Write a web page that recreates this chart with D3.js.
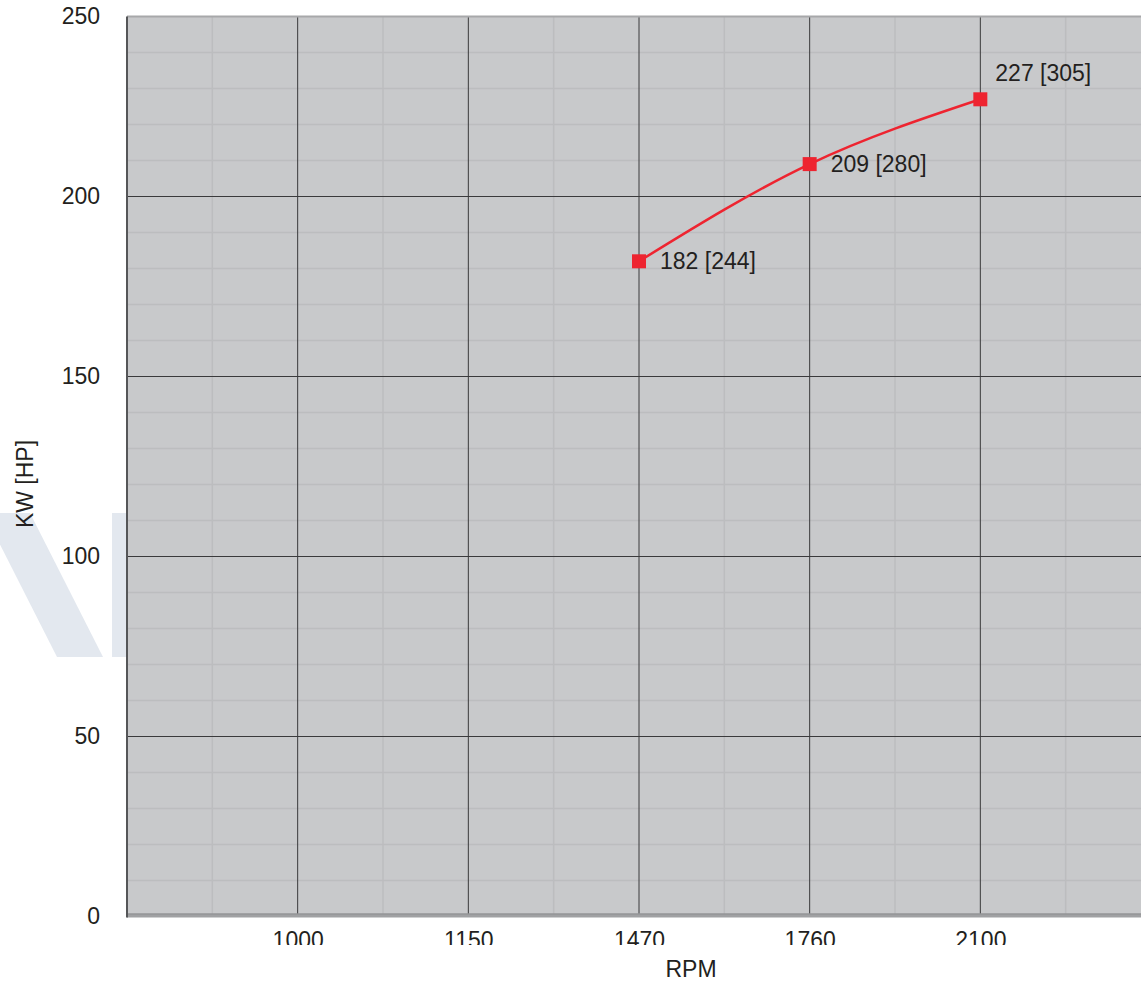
<!DOCTYPE html>
<html>
<head>
<meta charset="utf-8">
<script src="https://cdn.jsdelivr.net/npm/d3@7"></script>
<style>
  html, body { margin: 0; padding: 0; background: #fff; overflow: hidden; }
  svg { display: block; font-family: "Liberation Sans", Arial, sans-serif; }
</style>
</head>
<body>
<div id="chart"></div>
<script>
const rpmTicks = ["1000", "1150", "1470", "1760", "2100"];
const rpmPoints = ["1470", "1760", "2100"];
const kwValues = [182, 209, 227];
const hpValues = [244, 280, 305];
const yTicks = [0, 50, 100, 150, 200, 250];

const W = 1141, H = 981;
const margin = { top: 16.5, left: 127, right: 1151, bottom: 916.5 };
const fontSize = "23px";

const svg = d3.select("#chart").append("svg")
    .attr("width", W)
    .attr("height", H);

const x = d3.scalePoint().domain(rpmTicks).range([margin.left, margin.right]).padding(1);
const y = d3.scaleLinear().domain([0, 250]).range([margin.bottom, margin.top]);

// faint watermark behind the plot
const wm = svg.append("g").attr("fill", "#e3e8ef");
wm.append("path").attr("d", "M-16,513 L30,513 L103,657 L57,657 Z");
wm.append("rect").attr("x", 112).attr("y", 513).attr("width", 15).attr("height", 144);

// plot background
svg.append("rect")
    .attr("x", margin.left)
    .attr("y", margin.top)
    .attr("width", margin.right - margin.left)
    .attr("height", margin.bottom - margin.top)
    .attr("fill", "#c8c9cb");

// minor grid
const minorY = d3.range(10, 250, 10).filter(v => v % 50 !== 0);
svg.append("g").selectAll("line")
    .data(minorY)
    .enter().append("line")
    .attr("x1", margin.left).attr("x2", margin.right)
    .attr("y1", d => y(d)).attr("y2", d => y(d))
    .attr("stroke", "#bcbdbf")
    .attr("stroke-width", 1.5);

const step = x.step();
const minorX = [x(rpmTicks[0]) - step / 2].concat(rpmTicks.map(d => x(d) + step / 2));
svg.append("g").selectAll("line")
    .data(minorX)
    .enter().append("line")
    .attr("x1", d => d).attr("x2", d => d)
    .attr("y1", margin.top).attr("y2", margin.bottom)
    .attr("stroke", "#bcbdbf")
    .attr("stroke-width", 1.5);

// major grid
svg.append("g").selectAll("line")
    .data(yTicks.filter(d => d > 0 && d < 250))
    .enter().append("line")
    .attr("x1", margin.left).attr("x2", margin.right)
    .attr("y1", d => y(d)).attr("y2", d => y(d))
    .attr("stroke", "#3a3a3c")
    .attr("stroke-width", 1);

svg.append("g").selectAll("line")
    .data(rpmTicks)
    .enter().append("line")
    .attr("x1", d => x(d)).attr("x2", d => x(d))
    .attr("y1", margin.top).attr("y2", margin.bottom)
    .attr("stroke", "#3a3a3c")
    .attr("stroke-width", 1);

// frame
svg.append("line")
    .attr("x1", margin.left).attr("x2", margin.right)
    .attr("y1", margin.top).attr("y2", margin.top)
    .attr("stroke", "#a7a8aa").attr("stroke-width", 2);
svg.append("line")
    .attr("x1", margin.left).attr("x2", margin.right)
    .attr("y1", margin.bottom - 1).attr("y2", margin.bottom - 1)
    .attr("stroke", "#a0a1a3").attr("stroke-width", 4);
svg.append("line")
    .attr("x1", margin.left).attr("x2", margin.right)
    .attr("y1", margin.bottom - 2.5).attr("y2", margin.bottom - 2.5)
    .attr("stroke", "#8e8f91").attr("stroke-width", 1);
svg.append("line")
    .attr("x1", margin.left).attr("x2", margin.left)
    .attr("y1", margin.top).attr("y2", margin.bottom + 1)
    .attr("stroke", "#555658").attr("stroke-width", 2);

// y axis labels
const yAxis = svg.append("g")
    .attr("transform", `translate(${margin.left},0)`)
    .call(d3.axisLeft(y).tickValues(yTicks).tickSize(0).tickPadding(27));
yAxis.select(".domain").remove();
yAxis.selectAll("text")
    .style("font-size", fontSize)
    .attr("fill", "#231f20")
    .attr("font-family", "Liberation Sans, Arial, sans-serif");

// x axis labels, cut off at the bottom like the original
svg.append("clipPath").attr("id", "xclip")
    .append("rect").attr("x", 0).attr("y", margin.bottom).attr("width", W).attr("height", 945 - margin.bottom);
const xAxis = svg.append("g")
    .attr("clip-path", "url(#xclip)")
    .append("g")
    .attr("transform", `translate(0,${margin.bottom})`)
    .call(d3.axisBottom(x).tickSize(0).tickPadding(15));
xAxis.select(".domain").remove();
xAxis.selectAll("text")
    .style("font-size", fontSize)
    .attr("fill", "#231f20")
    .attr("font-family", "Liberation Sans, Arial, sans-serif");

// axis titles
svg.append("text")
    .attr("x", 691)
    .attr("y", 977)
    .attr("text-anchor", "middle")
    .attr("fill", "#231f20")
    .style("font-size", fontSize)
    .text("RPM");

svg.append("text")
    .attr("transform", "translate(33,484) rotate(-90)")
    .attr("text-anchor", "middle")
    .attr("fill", "#231f20")
    .style("font-size", fontSize)
    .text("KW [HP]");

// power curve
const pts = rpmPoints.map((r, i) => ({ rpm: r, kw: kwValues[i], hp: hpValues[i] }));
const line = d3.line().x(d => x(d.rpm)).y(d => y(d.kw)).curve(d3.curveMonotoneX);
svg.append("path")
    .datum(pts)
    .attr("fill", "none")
    .attr("stroke", "#ee2430")
    .attr("stroke-width", 2.5)
    .attr("d", line);

svg.append("g").selectAll("rect")
    .data(pts)
    .enter().append("rect")
    .attr("x", d => x(d.rpm) - 7)
    .attr("y", d => y(d.kw) - 7)
    .attr("width", 14)
    .attr("height", 14)
    .attr("fill", "#ee2430");

svg.append("g").selectAll("text")
    .data(pts)
    .enter().append("text")
    .attr("x", (d, i) => x(d.rpm) + (i === pts.length - 1 ? 15 : 21))
    .attr("y", (d, i) => y(d.kw) + (i === pts.length - 1 ? -18 : 8))
    .attr("fill", "#231f20")
    .style("font-size", fontSize)
    .text(d => `${d.kw} [${d.hp}]`);
</script>
</body>
</html>
